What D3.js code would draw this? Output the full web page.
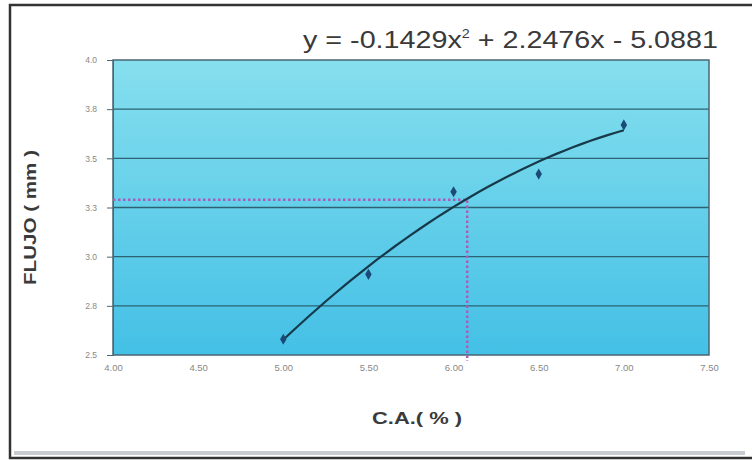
<!DOCTYPE html>
<html>
<head>
<meta charset="utf-8">
<script src="https://cdn.jsdelivr.net/npm/d3@7"></script>
<style>
  body { margin: 0; background: #fff; }
  svg { display: block; font-family: "Liberation Sans", Arial, sans-serif; }
</style>
</head>
<body>
<svg id="chart" width="752" height="460"></svg>
<script>
// data
const caValues = [5.00, 5.50, 6.00, 6.50, 7.00];
const flujoValues = [2.58, 2.91, 3.33, 3.42, 3.67];
const fitCoef = [-0.1429, 2.2476, -5.0881]; // a, b, c from the trend label
const xTicks = [4.0, 4.5, 5.0, 5.5, 6.0, 6.5, 7.0, 7.5];
const yTicks = [2.5, 2.75, 3.0, 3.25, 3.5, 3.75, 4.0];
const guidePoint = [6.08, 3.29];

const svg = d3.select("#chart");
const m = {left: 113, right: 709, top: 60, bottom: 355};

const x = d3.scaleLinear().domain([4, 7.5]).range([m.left, m.right]);
const y = d3.scaleLinear().domain([2.5, 4]).range([m.bottom, m.top]);

// frame of the scan
svg.append("rect").attr("x", 0).attr("y", 0).attr("width", 752).attr("height", 460).attr("fill", "#fff");
svg.append("path")
  .attr("d", "M752,5 L10,5 L10,458 L752,458")
  .attr("fill", "none").attr("stroke", "#333").attr("stroke-width", 2.5);
svg.append("line").attr("x1", 14).attr("x2", 745).attr("y1", 453).attr("y2", 453)
  .attr("stroke", "#c8ccd0").attr("stroke-width", 4);

const defs = svg.append("defs");
const grad = defs.append("linearGradient").attr("id", "bg").attr("x1", 0).attr("y1", 0).attr("x2", 0).attr("y2", 1);
grad.append("stop").attr("offset", "0%").attr("stop-color", "#86dfee");
grad.append("stop").attr("offset", "100%").attr("stop-color", "#44c0e6");

svg.append("rect")
  .attr("x", m.left).attr("y", m.top)
  .attr("width", m.right - m.left).attr("height", m.bottom - m.top)
  .attr("fill", "url(#bg)");

// gridlines
svg.append("g").selectAll("line").data(yTicks.slice(1, -1)).join("line")
  .attr("x1", m.left).attr("x2", m.right)
  .attr("y1", d => y(d)).attr("y2", d => y(d))
  .attr("stroke", "#2d6272").attr("stroke-width", 1.4);

svg.append("rect")
  .attr("x", m.left).attr("y", m.top)
  .attr("width", m.right - m.left).attr("height", m.bottom - m.top)
  .attr("fill", "none").attr("stroke", "#4a6670").attr("stroke-width", 1.5);

// axes
const yAxis = d3.axisLeft(y).tickValues(yTicks).tickFormat(d3.format(".1f")).tickSize(6).tickPadding(10);
const gy = svg.append("g").attr("transform", `translate(${m.left},0)`).call(yAxis);
gy.select(".domain").attr("stroke", "#4a6670");
gy.selectAll(".tick line").attr("stroke", "#4a6670");
gy.selectAll("text").attr("fill", "#888").attr("font-size", 8.5);

const xAxis = d3.axisBottom(x).tickValues(xTicks).tickFormat(d3.format(".2f")).tickSize(0).tickPadding(9);
const gx = svg.append("g").attr("transform", `translate(0,${m.bottom})`).call(xAxis);
gx.select(".domain").remove();
gx.selectAll("text").attr("fill", "#888").attr("font-size", 9.5);

// guide lines
svg.append("path")
  .attr("d", `M${m.left},${y(guidePoint[1])} H${x(guidePoint[0])} V${m.bottom + 6}`)
  .attr("fill", "none").attr("stroke", "#a85cbc").attr("stroke-width", 2.5)
  .attr("stroke-dasharray", "2.5,2.5");

// trend line
const fit = v => fitCoef[0] * v * v + fitCoef[1] * v + fitCoef[2];
const curveX = d3.range(5, 7.0001, 0.05);
svg.append("path")
  .datum(curveX)
  .attr("d", d3.line().x(d => x(d)).y(d => y(fit(d))))
  .attr("fill", "none").attr("stroke", "#17394a").attr("stroke-width", 2.2);

// points
svg.append("g").selectAll("path").data(caValues).join("path")
  .attr("transform", (d, i) => `translate(${x(d)},${y(flujoValues[i])})`)
  .attr("d", d3.symbol(d3.symbolDiamond, 36))
  .attr("fill", "#1b4a78");

// labels
svg.append("text")
  .attr("x", 303).attr("y", 48)
  .attr("font-size", 24).attr("fill", "#3a3a3a")
  .attr("textLength", 415).attr("lengthAdjust", "spacingAndGlyphs")
  .html('y = -0.1429x<tspan dy="-10" font-size="12">2</tspan><tspan dy="10"> + 2.2476x - 5.0881</tspan>');

svg.append("text")
  .attr("transform", `translate(36,${(m.top + m.bottom) / 2 + 10}) rotate(-90)`)
  .attr("text-anchor", "middle").attr("font-size", 16).attr("font-weight", "bold").attr("fill", "#3a3a3a")
  .attr("textLength", 135).attr("lengthAdjust", "spacingAndGlyphs")
  .text("FLUJO ( mm )");

svg.append("text")
  .attr("x", 417).attr("y", 424).attr("text-anchor", "middle")
  .attr("font-size", 17).attr("font-weight", "bold").attr("fill", "#3a3a3a")
  .attr("textLength", 90).attr("lengthAdjust", "spacingAndGlyphs")
  .text("C.A.( % )");
</script>
</body>
</html>
